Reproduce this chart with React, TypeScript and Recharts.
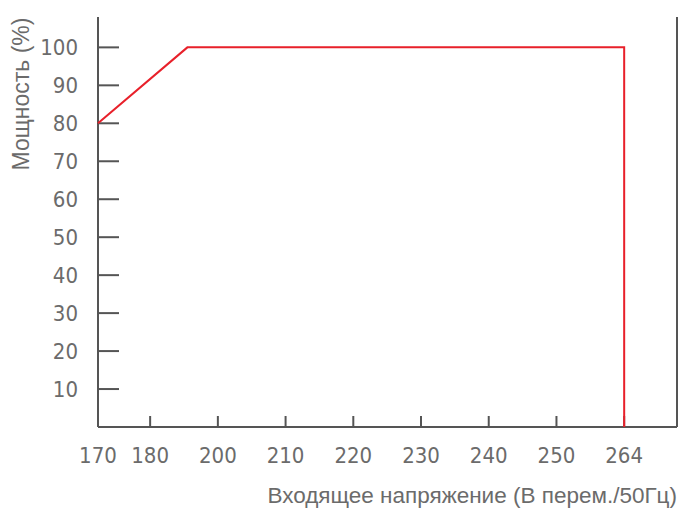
import { LineChart, Line, XAxis, YAxis } from 'recharts';

// x axis labels (the axis is not linear: 170-180 is a short step, then even steps)
const tickVolts = [170, 180, 200, 210, 220, 230, 240, 250, 264];
const tickPos = [0, 0.77, 1.77, 2.77, 3.77, 4.77, 5.77, 6.77, 7.77];
const powerTicks = [10, 20, 30, 40, 50, 60, 70, 80, 90, 100];

// curve
const voltage = [170, 191, 264, 264];
const power = [80, 100, 100, 0];

const AXIS = '#555';
const TEXT = '#6b6b6b';
const TICK_FONT = '"Liberation Sans Narrow", "DejaVu Sans Condensed", sans-serif';
const TITLE_FONT = '"Liberation Sans", sans-serif';

// piecewise map of a voltage onto the axis position
function toPos(v: number) {
  for (let i = 1; i < tickVolts.length; i++) {
    if (v <= tickVolts[i]) {
      const t = (v - tickVolts[i - 1]) / (tickVolts[i] - tickVolts[i - 1]);
      return tickPos[i - 1] + t * (tickPos[i] - tickPos[i - 1]);
    }
  }
  return tickPos[tickPos.length - 1];
}

const data = voltage.map((v, i) => ({ pos: toPos(v), power: power[i] }));

const voltLabel = (p: number) => {
  const i = tickPos.findIndex((t) => Math.abs(t - p) < 1e-6);
  return i >= 0 ? String(tickVolts[i]) : '';
};

function XTitle({ viewBox }: any) {
  return (
    <text x={viewBox.x + viewBox.width} y={viewBox.y + 76} textAnchor="end" fill={TEXT} fontSize={22.5} fontFamily={TITLE_FONT}>
      Входящее напряжение (В перем./50Гц)
    </text>
  );
}

function YTitle() {
  return (
    <text x={0} y={0} transform="translate(29, 94) rotate(-90)" textAnchor="middle" fill={TEXT} fontSize={23} fontFamily={TITLE_FONT}>
      Мощность (%)
    </text>
  );
}

export default function App() {
  return (
    <div style={{ position: 'absolute', left: 0, top: 0, background: '#fff' }}>
      <LineChart width={681} height={514} data={data} margin={{ top: 17, right: 0, left: 0, bottom: 0 }}>
        <XAxis
          dataKey="pos"
          type="number"
          domain={[0, 8.55]}
          ticks={tickPos}
          tickFormatter={voltLabel}
          interval={0}
          height={87}
          stroke={AXIS}
          strokeWidth={2}
          tickSize={-11}
          tickMargin={31}
          tick={{ fill: TEXT, fontSize: 22, fontFamily: TICK_FONT }}
          label={<XTitle />}
        />
        <XAxis xAxisId="top" orientation="top" dataKey="pos" type="number" domain={[0, 8.55]} height={0} tick={false} tickLine={false} stroke={AXIS} strokeWidth={2} />
        <YAxis
          type="number"
          domain={[0, 108]}
          ticks={powerTicks}
          interval={0}
          width={98}
          stroke={AXIS}
          strokeWidth={2}
          tickSize={-21}
          tickMargin={41}
          tick={{ fill: TEXT, fontSize: 22, fontFamily: TICK_FONT }}
          label={<YTitle />}
        />
        <YAxis
          yAxisId="right"
          orientation="right"
          type="number"
          domain={[0, 108]}
          ticks={powerTicks}
          interval={0}
          width={4}
          stroke={AXIS}
          strokeWidth={2}
          tickSize={-21}
          tickFormatter={() => ''}
        />
        <Line dataKey="power" type="linear" stroke="#e8202a" strokeWidth={2} dot={false} isAnimationActive={false} {...({ zIndex: 600 } as any)} />
      </LineChart>
    </div>
  );
}
